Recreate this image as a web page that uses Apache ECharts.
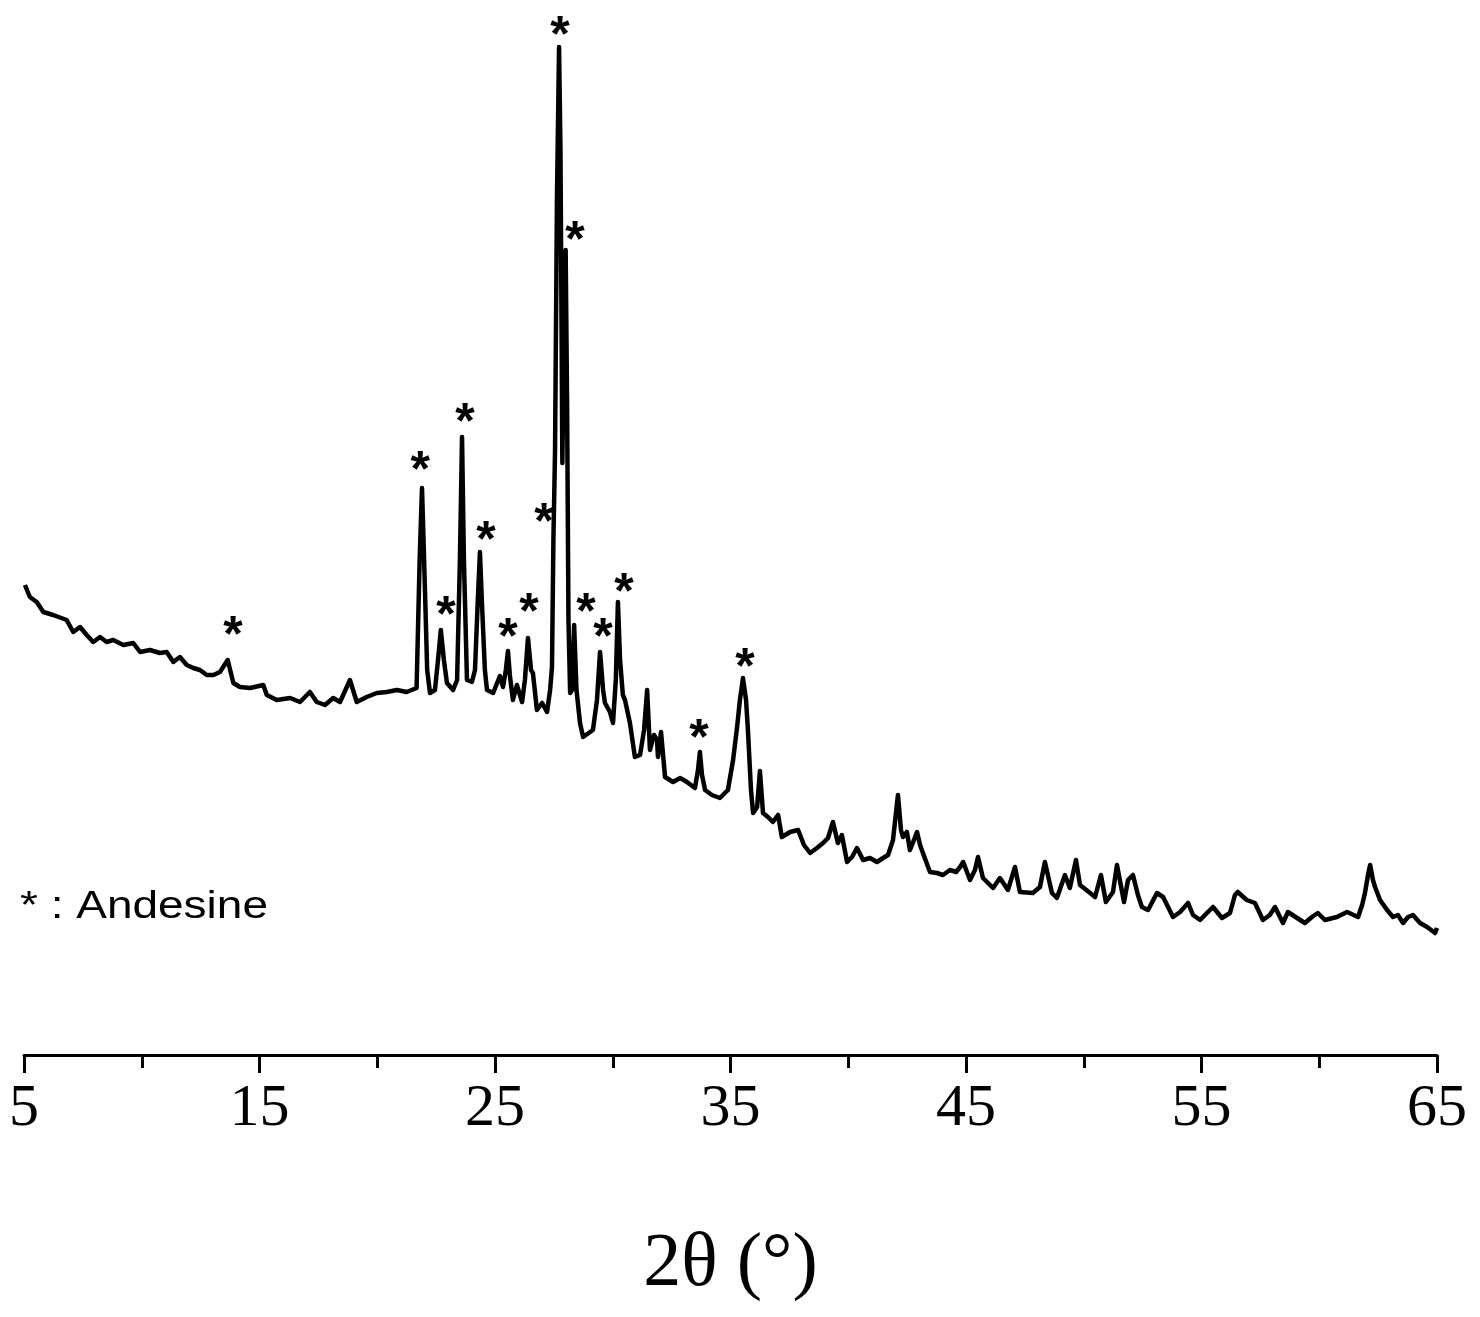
<!DOCTYPE html>
<html>
<head>
<meta charset="utf-8">
<script src="https://cdn.jsdelivr.net/npm/echarts@6/dist/echarts.min.js"></script>
<style>html,body{margin:0;padding:0;background:#fff;}#c{width:1480px;height:1317px;}</style>
</head>
<body>
<div id="c"></div>
<script>
// 2θ (degrees)
const twoTheta = [
5.04,5.25,5.54,5.82,6.24,6.81,7.09,7.38,7.66,7.94,8.23,8.51,8.79,9.22,9.64,9.93,10.35,10.77,11.06,11.34,11.62,11.91,12.19,12.47,12.76,13.04,13.32,13.65,13.89,14.17,14.60,15.16,15.31,15.73,16.30,16.72,17.14,17.43,17.78,18.13,18.42,18.84,19.13,19.55,19.98,20.40,20.83,21.25,21.67,
21.80,21.90,21.99,22.12,22.24,22.45,22.58,22.70,22.83,22.96,23.22,23.39,23.51,23.60,23.68,23.81,24.02,24.15,24.27,24.36,24.44,24.57,24.66,24.92,25.21,25.34,25.46,25.55,25.63,25.76,25.93,26.15,26.27,26.40,26.53,26.61,26.78,27.00,27.21,27.34,27.42,27.48,27.55,27.63,27.72,27.78,27.86,27.93,28.00,28.06,28.12,28.19,28.27,28.36,28.46,28.61,28.74,29.16,29.33,29.46,29.59,29.67,29.88,30.01,30.13,30.22,30.31,30.43,30.52,30.73,30.94,31.16,31.33,31.46,31.58,31.75,31.88,31.92,32.05,32.22,32.56,32.86,33.15,33.49,33.62,33.70,33.79,33.92,34.21,34.55,34.89,35.11,35.28,35.40,35.53,35.66,35.74,35.87,35.96,36.13,36.25,36.38,36.59,36.80,37.02,37.18,37.53,37.87,38.12,38.38,38.67,38.93,39.14,39.35,39.56,39.73,39.95,40.16,40.37,40.63,40.92,41.22,41.48,41.69,41.90,42.11,42.24,42.32,42.49,42.62,42.79,42.92,43.05,43.17,43.47,43.77,44.02,44.32,44.58,44.75,44.88,45.17,45.38,45.51,45.72,46.15,46.44,46.78,47.08,47.29,47.84,48.14,48.35,48.65,48.86,49.20,49.41,49.67,49.84,50.27,50.48,50.73,50.94,51.24,51.41,51.71,51.88,52.09,52.30,52.47,52.73,53.11,53.37,53.79,54.09,54.43,54.64,54.94,55.23,55.49,55.87,56.21,56.42,56.54,56.92,57.27,57.61,57.90,58.12,58.46,58.67,59.06,59.39,59.69,59.94,60.24,60.75,61.18,61.65,61.82,61.94,62.07,62.16,62.28,62.37,62.58,62.88,63.13,63.34,63.56,63.77,63.98,64.28,64.58,64.92,65.00
];
// intensity (arbitrary units)
const intensity = [
470,458,453,443,440,435,423,428,420,413,418,413,415,410,412,403,405,402,403,393,398,390,387,385,380,380,383,395,372,368,367,370,360,355,357,353,363,353,350,357,353,375,353,358,362,363,365,363,367,
495,567,495,385,362,365,395,425,395,372,365,375,495,618,495,375,373,385,455,503,455,385,365,362,379,368,385,404,380,355,370,353,375,417,385,382,345,352,343,365,388,515,605,855,1008,905,592,725,805,655,435,362,365,430,365,332,318,325,355,403,365,352,343,332,375,453,395,360,355,332,298,300,325,365,305,320,315,298,323,278,273,277,273,267,285,303,280,265,260,257,265,295,328,355,377,355,325,265,242,248,284,242,238,233,240,218,223,225,210,202,207,212,217,233,212,220,193,198,207,195,197,193,197,200,215,260,225,218,223,205,215,223,210,202,183,182,180,185,183,188,193,175,185,198,177,167,177,165,188,163,162,168,193,162,157,180,167,195,170,162,158,180,153,163,190,153,175,180,160,148,145,162,158,138,143,152,140,135,142,148,137,142,160,163,155,152,135,140,148,132,143,137,132,138,142,135,138,143,138,150,162,180,190,175,168,155,145,138,140,132,138,140,132,128,122,127
];
// Andesine peak markers (asterisk positions)
const markX = [13.87,21.82,22.92,23.73,24.62,25.55,26.44,27.08,27.76,28.40,28.86,29.59,30.48,33.66,35.62];
const markY = [427,592,447,640,522,425,450,540,1027,822,450,425,470,324,395];
const tickMin = 5, tickMax = 65, tickStep = 10;
const xTitle = '2θ (°)';
const legendText = '* : Andesine';

const lineData = twoTheta.map((x, i) => [x, intensity[i]]);
const markData = markX.map((x, i) => [x, markY[i]]);

const chart = echarts.init(document.getElementById('c'), null, {renderer: 'canvas'});
chart.setOption({
  animation: false,
  backgroundColor: '#ffffff',
  grid: {left: 24, right: 43, top: 15, bottom: 262, containLabel: false},
  xAxis: {
    type: 'value', min: tickMin, max: tickMax, interval: tickStep,
    name: xTitle, nameLocation: 'middle', nameGap: 172,
    nameTextStyle: {fontFamily: 'Liberation Serif', fontSize: 76, color: '#000', verticalAlign: 'top'},
    axisLine: {show: true, onZero: false, lineStyle: {color: '#000', width: 3}},
    axisTick: {show: true, inside: false, length: 18, lineStyle: {color: '#000', width: 3}},
    minorTick: {show: true, splitNumber: 2, length: 13, lineStyle: {color: '#000', width: 3}},
    axisLabel: {fontFamily: 'Liberation Serif', fontSize: 60, color: '#000', margin: 24},
    splitLine: {show: false}, minorSplitLine: {show: false}
  },
  yAxis: {type: 'value', min: 0, max: 1040, show: false},
  graphic: [{
    type: 'text', left: 20, top: 889, scaleX: 1.21,
    style: {text: legendText, font: '38px "Liberation Sans"', fill: '#000'}
  }],
  series: [
    {type: 'line', data: lineData, showSymbol: false, symbol: 'none',
     lineStyle: {color: '#000', width: 4.5, join: 'round'}, silent: true},
    {type: 'scatter', data: markData, symbol: 'circle', symbolSize: 1, silent: true,
     itemStyle: {color: 'rgba(0,0,0,0)'},
     label: {show: true, position: 'top', distance: 0, formatter: '*', fontFamily: 'Liberation Sans',
             fontSize: 50, fontWeight: 'bold', color: '#000000', opacity: 1, textBorderWidth: 0,
             offset: [0, 35]}}
  ]
});
</script>
</body>
</html>
